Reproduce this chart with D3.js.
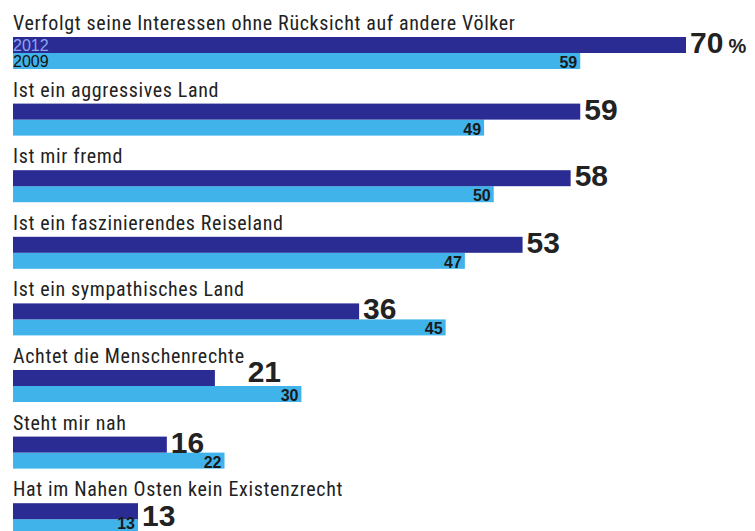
<!DOCTYPE html>
<html>
<head>
<meta charset="utf-8">
<script src="https://cdn.jsdelivr.net/npm/d3@7"></script>
<style>
  body { margin: 0; background: #fff; }
  svg { display: block; }
</style>
</head>
<body>
<div class="canvas"></div>
<script>
const categories = [
    'Verfolgt seine Interessen ohne Rücksicht auf andere Völker',
    'Ist ein aggressives Land',
    'Ist mir fremd',
    'Ist ein faszinierendes Reiseland',
    'Ist ein sympathisches Land',
    'Achtet die Menschenrechte',
    'Steht mir nah',
    'Hat im Nahen Osten kein Existenzrecht'
];
const values2012 = [70, 59, 58, 53, 36, 21, 16, 13];
const values2009 = [59, 49, 50, 47, 45, 30, 22, 13];
const seriesNames = ['2012', '2009'];

const dims = { width: 755, height: 531 }
const left = 13
const barH = 16

const svg = d3.select('.canvas')
    .append('svg')
    .attr('width', dims.width)
    .attr('height', dims.height)

const x = d3.scaleLinear()
    .domain([0, 70])
    .range([left, 686])

const y = d3.scaleBand()
    .domain(categories)
    .range([37, 37 + 66.6 * categories.length])
    .paddingInner(0)

const colors = { dark: '#2a2c94', light: '#3fb3ea' }
const labelFont = '"Liberation Sans Narrow", "Roboto Condensed", "DejaVu Sans Condensed", sans-serif'
const numFont = '"Liberation Sans", Arial, sans-serif'

const rows = categories.map((c, i) => ({ name: c, v12: values2012[i], v09: values2009[i], i }))

const groups = svg.selectAll('g.row')
    .data(rows)
    .enter()
    .append('g')
    .attr('class', 'row')
    .attr('transform', d => `translate(0, ${y(d.name)})`)

// category label
groups.append('text')
    .attr('class', 'cat')
    .attr('x', left)
    .attr('y', -7)
    .attr('font-family', labelFont)
    .attr('font-size', 20)
    .attr('letter-spacing', 0.65)
    .attr('fill', '#222')
    .text(d => d.name)

// 2009 bar (light)
groups.append('rect')
    .attr('x', left)
    .attr('y', barH)
    .attr('width', d => x(d.v09) - left)
    .attr('height', barH)
    .attr('fill', colors.light)

// 2012 bar (dark)
groups.append('rect')
    .attr('x', left)
    .attr('y', 0)
    .attr('width', d => x(d.v12) - left)
    .attr('height', barH)
    .attr('fill', colors.dark)

// 2009 values inside light bar
groups.append('text')
    .attr('x', d => x(d.v09) - 3)
    .attr('y', d => Math.min(barH * 2 - 1, dims.height - 2 - y(d.name)))
    .attr('text-anchor', 'end')
    .attr('font-family', numFont)
    .attr('font-weight', 'bold')
    .attr('font-size', 16)
    .attr('fill', '#1a1a1a')
    .text(d => d.v09)

// 2012 values, big, after the bar; nudged when the label runs past the bar
groups.each(function(d) {
    const g = d3.select(this)
    const labelEnd = left + g.select('text.cat').node().getComputedTextLength()
    const barEnd = x(d.v12)
    let xPos = barEnd + 4
    let yPos = barH
    if (labelEnd > barEnd + 4 && labelEnd < barEnd + 60) {
        xPos = labelEnd + 3
        yPos = barH - 4
    } else if (labelEnd > barEnd + 4) {
        yPos = barH + 7
    }
    const t = g.append('text')
        .attr('x', xPos)
        .attr('y', yPos)
        .attr('font-family', numFont)
        .attr('font-weight', 'bold')
        .attr('font-size', 30)
        .attr('fill', '#222')
        .text(d.v12)
    if (d.i === 0) {
        t.append('tspan')
            .attr('font-size', 20)
            .attr('dx', 5)
            .text('%')
    }
})

// legend in first row
const first = svg.select('g.row')
first.append('text')
    .attr('x', left)
    .attr('y', barH - 2)
    .attr('font-family', numFont)
    .attr('font-size', 16)
    .attr('fill', '#8ea6ee')
    .text(seriesNames[0])
first.append('text')
    .attr('x', left)
    .attr('y', barH * 2 - 2)
    .attr('font-family', numFont)
    .attr('font-size', 16)
    .attr('fill', '#111')
    .text(seriesNames[1])
</script>
</body>
</html>
